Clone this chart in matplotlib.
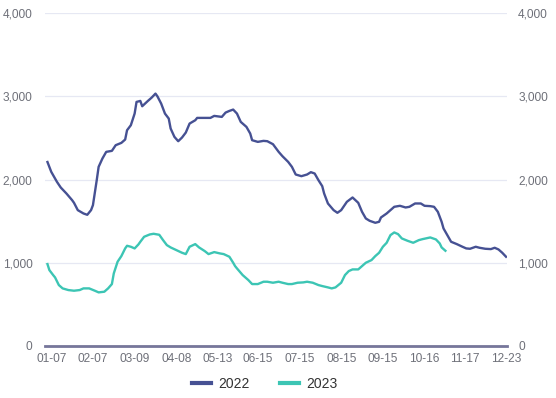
import matplotlib
matplotlib.use("Agg")
import matplotlib.pyplot as plt
from matplotlib.lines import Line2D

# trading-day index -> value
idx_2022 = [0, 2, 5, 7, 10, 13, 14, 16, 19, 21, 23, 24, 26, 27, 29, 31, 34, 36, 39, 41,
            42, 44, 46, 47, 49, 50, 53, 55, 57, 58, 60, 62, 64, 65, 67, 69, 71, 73, 75, 78,
            79, 83, 86, 88, 92, 94, 96, 98, 100, 102, 105, 107, 108, 111, 114, 116, 119, 122,
            124, 127, 129, 131, 134, 137, 139, 141, 143, 145, 146, 148, 151, 153, 155, 158,
            161, 164, 166, 168, 170, 173, 175, 176, 179, 182, 183, 186, 189, 191, 194, 197,
            199, 202, 204, 206, 208, 209, 212, 213, 216, 219, 221, 223, 226, 228, 231, 234,
            236, 238, 240, 242]
val_2022 = [2210, 2092, 1972, 1904, 1832, 1752, 1720, 1632, 1592, 1576, 1632, 1692, 1992, 2152,
            2252, 2332, 2344, 2412, 2440, 2480, 2592, 2652, 2792, 2932, 2944, 2880, 2944, 2984,
            3032, 3000, 2912, 2792, 2732, 2612, 2512, 2460, 2504, 2564, 2672, 2712, 2740, 2740,
            2740, 2764, 2752, 2804, 2824, 2840, 2792, 2692, 2632, 2552, 2472, 2452, 2464, 2460,
            2424, 2332, 2280, 2212, 2152, 2060, 2040, 2060, 2088, 2072, 1992, 1920, 1832, 1712,
            1632, 1600, 1632, 1732, 1784, 1720, 1612, 1532, 1504, 1480, 1492, 1544, 1592, 1652,
            1672, 1684, 1664, 1672, 1712, 1712, 1684, 1680, 1672, 1612, 1492, 1412, 1292, 1252,
            1224, 1192, 1172, 1168, 1192, 1180, 1168, 1164, 1180, 1160, 1120, 1072]

idx_2023 = [0, 1, 3, 4, 6, 8, 11, 14, 17, 19, 22, 25, 27, 30, 32, 34, 35, 37, 39, 41, 42, 44,
            46, 48, 49, 51, 54, 56, 59, 61, 63, 65, 68, 71, 73, 75, 78, 80, 83, 85, 88, 91, 93,
            96, 98, 99, 100, 103, 106, 108, 111, 114, 116, 119, 122, 124, 127, 129, 132, 135,
            137, 140, 143, 145, 148, 150, 152, 155, 157, 159, 161, 164, 166, 168, 171, 173, 175,
            177, 179, 181, 183, 185, 187, 190, 193, 196, 198, 202, 205, 207, 208, 210]
val_2023 = [984, 912, 852, 824, 732, 692, 672, 664, 672, 692, 692, 664, 644, 652, 692, 744, 872,
            1012, 1080, 1172, 1204, 1192, 1172, 1220, 1252, 1312, 1340, 1348, 1336, 1272, 1212,
            1184, 1152, 1120, 1104, 1192, 1224, 1184, 1140, 1104, 1128, 1112, 1104, 1072, 1000,
            960, 932, 852, 792, 744, 744, 772, 772, 760, 772, 760, 744, 744, 760, 764, 772, 760,
            732, 720, 704, 692, 704, 760, 852, 900, 920, 920, 960, 1000, 1032, 1080, 1120, 1192,
            1240, 1332, 1364, 1344, 1292, 1264, 1240, 1272, 1284, 1304, 1280, 1232, 1184, 1144]

tick_pos = [2, 24, 46, 68, 90, 111, 133, 155, 177, 199, 220, 242]
tick_labels = ["01-07", "02-07", "03-09", "04-08", "05-13", "06-15",
               "07-15", "08-15", "09-15", "10-16", "11-17", "12-23"]
y_ticks = [0, 1000, 2000, 3000, 4000]

C22 = "#465193"
C23 = "#3CC5B4"
GRAY = "#6E7079"

plt.rcParams["font.family"] = ["Liberation Sans", "DejaVu Sans"]

fig = plt.figure(figsize=(5.56, 3.98), dpi=100)
ax = fig.add_axes([45 / 556, 52 / 398, 462 / 556, 333 / 398])

ax.plot(idx_2022, val_2022, color=C22, lw=1.7, solid_joinstyle="round", zorder=3)
ax.plot(idx_2023, val_2023, color=C23, lw=1.7, solid_joinstyle="round", zorder=3)

ax.set_xlim(-1.3, 242.5)
ax.set_ylim(0, 4000)
ax.set_yticks(y_ticks)
ax.set_yticklabels([f"{v:,}" for v in y_ticks])
ax.set_xticks(tick_pos)
ax.set_xticklabels(tick_labels)
ax.grid(axis="y", color="#E6E8F3", lw=0.9)
ax.set_axisbelow(True)
for s in ["top", "right", "left"]:
    ax.spines[s].set_visible(False)
ax.spines["bottom"].set_color("#76769A")
ax.spines["bottom"].set_linewidth(2)
ax.tick_params(axis="both", length=0, labelsize=8.6, colors=GRAY)
ax.tick_params(axis="y", pad=9)
ax.tick_params(axis="x", pad=5)

ax2 = ax.twinx()
ax2.set_ylim(0, 4000)
ax2.set_yticks(y_ticks)
ax2.set_yticklabels([f"{v:,}" for v in y_ticks])
for s in ax2.spines.values():
    s.set_visible(False)
ax2.tick_params(axis="y", length=0, labelsize=8.6, colors=GRAY, pad=8)

handles = [Line2D([], [], color=C22, lw=3), Line2D([], [], color=C23, lw=3)]
fig.legend(handles, ["2022", "2023"], loc="center", bbox_to_anchor=(0.476, 0.035),
           ncol=2, frameon=False, fontsize=10, handlelength=1.4, handletextpad=0.5,
           columnspacing=2.2, labelcolor="#333333")

fig.savefig("out.png", dpi=100)
